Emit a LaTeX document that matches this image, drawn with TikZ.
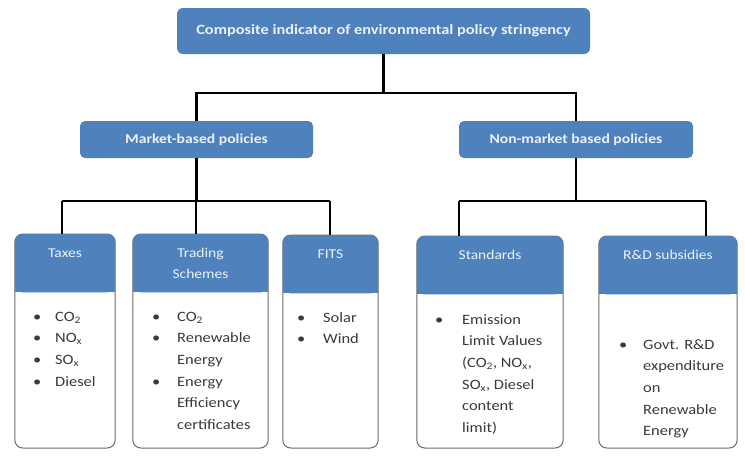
\documentclass[tikz,border=0pt]{standalone}
\usepackage{fontspec}
\setmainfont[FakeStretch=1.15]{Carlito}
\usetikzlibrary{calc,backgrounds}

\definecolor{hdrblue}{HTML}{4F81BD}
\definecolor{hdrtext}{HTML}{EAF1FA}
\definecolor{cardline}{HTML}{6A6A6A}
\definecolor{bodytext}{HTML}{3A3A3A}

\tikzset{
  topbox/.style={fill=hdrblue, rounded corners=6pt, inner sep=0pt,
    text=hdrtext, font=\fontsize{14.2}{17}\selectfont\bfseries},
  midbox/.style={fill=hdrblue, rounded corners=5pt, inner sep=0pt,
    text=hdrtext, font=\fontsize{13.6}{16}\selectfont\bfseries},
  cardhead/.style={inner sep=0pt, minimum height=58pt, align=center,
    text=hdrtext, font=\fontsize{13.5}{21}\selectfont},
  cardbody/.style={inner sep=0pt, anchor=base west, text=bodytext,
    font=\fontsize{14.3}{21.7}\selectfont},
  link/.style={line width=2.6pt, black},
}

\newcommand{\bul}{\textbullet}

\begin{document}
\begin{tikzpicture}[x=1pt,y=-1pt]
\useasboundingbox (0,0) rectangle (745,461);

% top level
\node[topbox, minimum width=413pt, minimum height=46pt] (top) at (383.5,31)
  {Composite indicator of environmental policy stringency};

% second level
\node[midbox, minimum width=233pt, minimum height=37pt] (market) at (196.5,139.5)
  {Market-based policies};
\node[midbox, minimum width=234pt, minimum height=37pt] (nonmarket) at (576,139.5)
  {Non-market based policies};

% card headers
\node[cardhead, minimum width=100pt, anchor=north] (taxes) at (65,234) {Taxes\\\mbox{}};
\node[cardhead, minimum width=135pt, anchor=north] (trading) at (200.5,234) {Trading\\Schemes};
\node[cardhead, minimum width=95pt, anchor=north] (fits) at (330.5,235) {FITS\\\mbox{}};
\node[cardhead, minimum width=146pt, anchor=north] (standards) at (490,236) {Standards\\\mbox{}};
\node[cardhead, minimum width=138pt, anchor=north] (rd) at (668,236) {R\&D subsidies\\\mbox{}};

% card contents
\node[cardbody] (taxesl) at (33,321) {\begin{tabular}[t]{@{}p{22pt}@{}l@{}}
  \bul & CO\textsubscript{2}\\
  \bul & NO\textsubscript{x}\\
  \bul & SO\textsubscript{x}\\
  \bul & Diesel
\end{tabular}};
\node[cardbody] (tradingl) at (152,321) {\begin{tabular}[t]{@{}p{25pt}@{}l@{}}
  \bul & CO\textsubscript{2}\\
  \bul & Renewable\\
       & Energy\\
  \bul & Energy\\
       & Efficiency\\
       & certificates
\end{tabular}};
\node[cardbody] (fitsl) at (297,322) {\begin{tabular}[t]{@{}p{26pt}@{}l@{}}
  \bul & Solar\\
  \bul & Wind
\end{tabular}};
\node[cardbody] (standardsl) at (435,324) {\begin{tabular}[t]{@{}p{27pt}@{}l@{}}
  \bul & Emission\\
       & Limit Values\\
       & (CO\textsubscript{2}, NO\textsubscript{x},\\
       & SO\textsubscript{x}, Diesel\\
       & content\\
       & limit)
\end{tabular}};
\node[cardbody] (rdl) at (619,349) {\begin{tabular}[t]{@{}p{24pt}@{}l@{}}
  \bul & Govt. R\&D\\
       & expenditure\\
       & on\\
       & Renewable\\
       & Energy
\end{tabular}};

% card frames and header fills
\begin{scope}[on background layer]
  \foreach \n in {taxes,trading,fits,standards,rd}{
    \draw[cardline, line width=1pt, fill=white, rounded corners=8pt]
      (\n.north west) rectangle ($(\n.south east |- 0,448)$);
    \fill[hdrblue, rounded corners=8pt] (\n.north west) rectangle (\n.south east);
    \fill[hdrblue] (\n.west) rectangle (\n.south east);
  }
\end{scope}

% connectors
\coordinate (j0) at (top.south |- 0,93);
\coordinate (jm) at (market.south |- 0,201);
\coordinate (jn) at (nonmarket.south |- 0,201);
\coordinate (dt) at (62,201);
\coordinate (dtr) at (196,201);
\coordinate (df) at (330,201);
\coordinate (ds) at (459,201);
\coordinate (dr) at (706,201);

\draw[link] (top.south) -- (j0);
\draw[link] (market.north) |- (j0) -| (nonmarket.north);

\draw[link] (market.south) -- (jm);
\draw[link] (dt) -- (df);
\draw[link] (dt) -- (dt |- taxes.north);
\draw[link] (dtr) -- (dtr |- trading.north);
\draw[link] (df) -- (df |- fits.north);

\draw[link] (nonmarket.south) -- (jn);
\draw[link] (ds) -- (dr);
\draw[link] (ds) -- (ds |- standards.north);
\draw[link] (dr) -- (dr |- rd.north);
\end{tikzpicture}
\end{document}
